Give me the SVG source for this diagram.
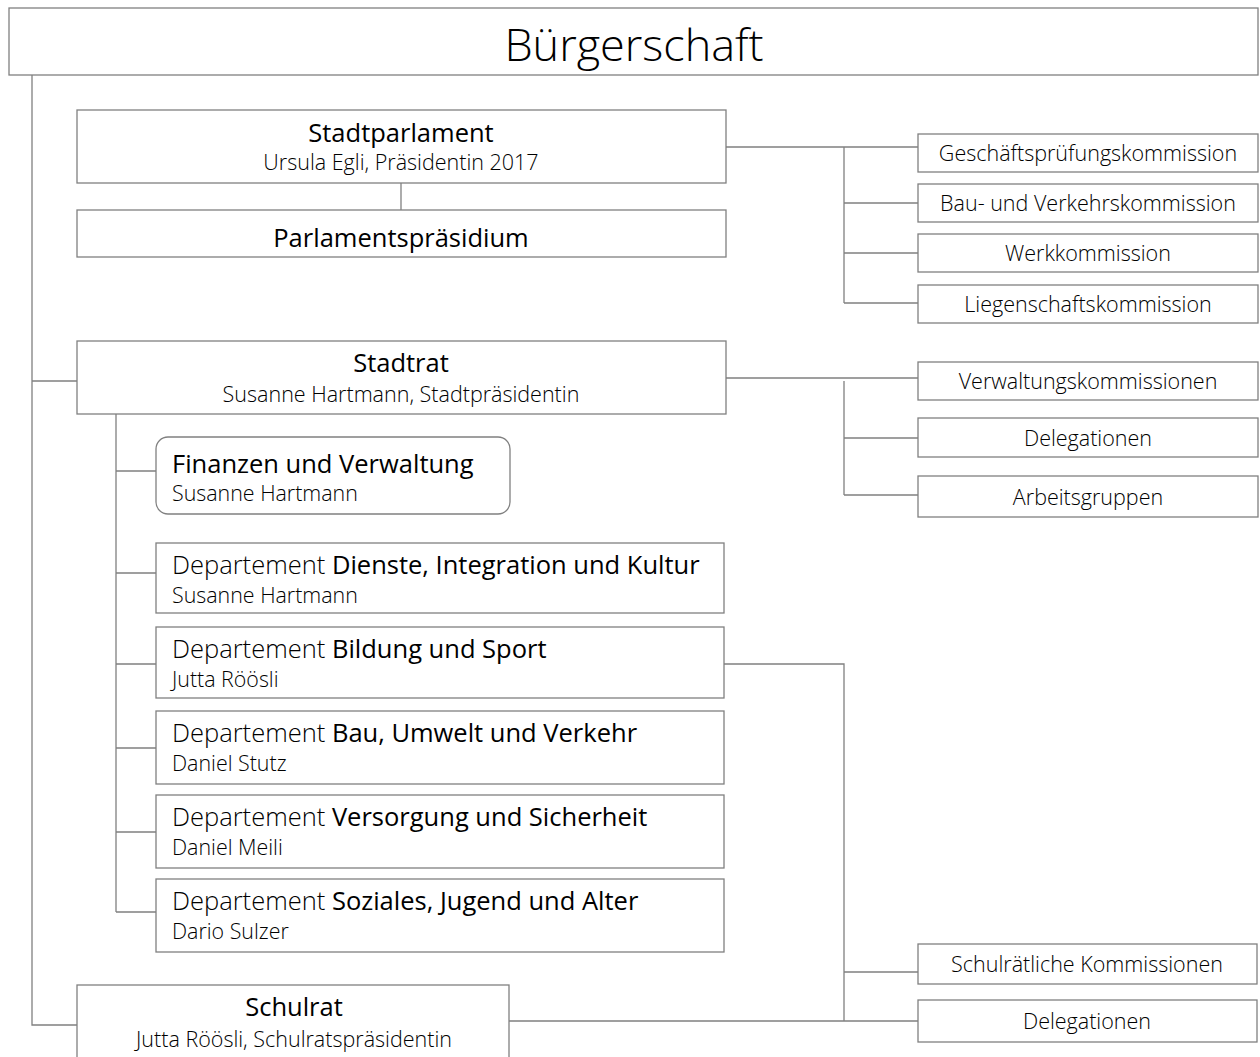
<svg xmlns="http://www.w3.org/2000/svg" width="1260" height="1057" viewBox="0 0 1260 1057">
<style>
.b{fill:#fff;stroke:#808080;stroke-width:1.3}
.c{fill:none;stroke:#808080;stroke-width:1.3}
text{font-family:"Open Sans","Noto Sans",sans-serif;fill:#000;font-weight:300}
.t{font-size:25.5px;font-weight:500;text-anchor:middle}
.s{font-size:21.5px;text-anchor:middle}
.k{font-size:21.5px;text-anchor:middle}
.d{font-size:25.5px}
.d tspan.bo{font-weight:500}
.n{font-size:21.4px}
</style>
<rect width="1260" height="1057" fill="#fff"/>
<g id="connectors">
<path class="c" d="M32 75V1025H77M32 381H77"/>
<path class="c" d="M401 183V210"/>
<path class="c" d="M726 147H918M844 147V303M844 203H918M844 253H918M844 303H918"/>
<path class="c" d="M726 378H918M844 381V495M844 438H918M844 495H918"/>
<path class="c" d="M116 414V912M116 471H156M116 573H156M116 664H156M116 748H156M116 832H156M116 912H156"/>
<path class="c" d="M724 664H844V1021M509 1021H918M844 972H918"/>
</g>
<g id="buergerschaft"><rect class="b" x="9" y="8" width="1249" height="67"/><text x="634" y="61" style="font-size:45px;text-anchor:middle">Bürgerschaft</text></g>
<g id="stadtparlament"><rect class="b" x="77" y="110" width="649" height="73"/><text class="t" x="401" y="142">Stadtparlament</text><text class="s" x="401" y="170">Ursula Egli, Präsidentin 2017</text></g>
<g id="parlamentspraesidium"><rect class="b" x="77" y="210" width="649" height="47"/><text class="t" x="401" y="247">Parlamentspräsidium</text></g>
<g id="gpk"><rect class="b" x="918" y="134" width="340" height="38"/><text class="k" x="1088" y="161">Geschäftsprüfungskommission</text></g>
<g id="bvk"><rect class="b" x="918" y="184" width="340" height="38"/><text class="k" x="1088" y="211">Bau- und Verkehrskommission</text></g>
<g id="werk"><rect class="b" x="918" y="234" width="340" height="38"/><text class="k" x="1088" y="261">Werkkommission</text></g>
<g id="liegen"><rect class="b" x="918" y="285" width="340" height="38"/><text class="k" x="1088" y="312">Liegenschaftskommission</text></g>
<g id="stadtrat"><rect class="b" x="77" y="341" width="649" height="73"/><text class="t" x="401" y="372">Stadtrat</text><text class="s" x="401" y="402">Susanne Hartmann, Stadtpräsidentin</text></g>
<g id="verwaltungskommissionen"><rect class="b" x="918" y="362" width="340" height="38"/><text class="k" x="1088" y="389">Verwaltungskommissionen</text></g>
<g id="delegationen1"><rect class="b" x="918" y="418" width="340" height="39"/><text class="k" x="1088" y="446">Delegationen</text></g>
<g id="arbeitsgruppen"><rect class="b" x="918" y="476" width="340" height="41"/><text class="k" x="1088" y="505">Arbeitsgruppen</text></g>
<g id="finanzen"><rect class="b" x="156" y="437" width="354" height="77" rx="12"/><text class="d" x="172" y="473" style="font-weight:500">Finanzen und Verwaltung</text><text class="n" x="172" y="501">Susanne Hartmann</text></g>
<g id="dik"><rect class="b" x="156" y="543" width="568" height="70"/><text class="d" x="172" y="574">Departement <tspan class="bo">Dienste, Integration und Kultur</tspan></text><text class="n" x="172" y="603">Susanne Hartmann</text></g>
<g id="bs"><rect class="b" x="156" y="627" width="568" height="71"/><text class="d" x="172" y="658">Departement <tspan class="bo">Bildung und Sport</tspan></text><text class="n" x="172" y="687">Jutta Röösli</text></g>
<g id="buv"><rect class="b" x="156" y="711" width="568" height="73"/><text class="d" x="172" y="742">Departement <tspan class="bo">Bau, Umwelt und Verkehr</tspan></text><text class="n" x="172" y="771">Daniel Stutz</text></g>
<g id="vs"><rect class="b" x="156" y="795" width="568" height="73"/><text class="d" x="172" y="826">Departement <tspan class="bo">Versorgung und Sicherheit</tspan></text><text class="n" x="172" y="855">Daniel Meili</text></g>
<g id="sja"><rect class="b" x="156" y="879" width="568" height="73"/><text class="d" x="172" y="910">Departement <tspan class="bo">Soziales, Jugend und Alter</tspan></text><text class="n" x="172" y="939">Dario Sulzer</text></g>
<g id="schulkommissionen"><rect class="b" x="918" y="944" width="339" height="40"/><text class="k" x="1087" y="972">Schulrätliche Kommissionen</text></g>
<g id="delegationen2"><rect class="b" x="918" y="1000" width="339" height="42"/><text class="k" x="1087" y="1029">Delegationen</text></g>
<g id="schulrat"><rect class="b" x="77" y="985" width="432" height="80"/><text class="t" x="294" y="1016">Schulrat</text><text class="s" x="294" y="1047">Jutta Röösli, Schulratspräsidentin</text></g>
</svg>
